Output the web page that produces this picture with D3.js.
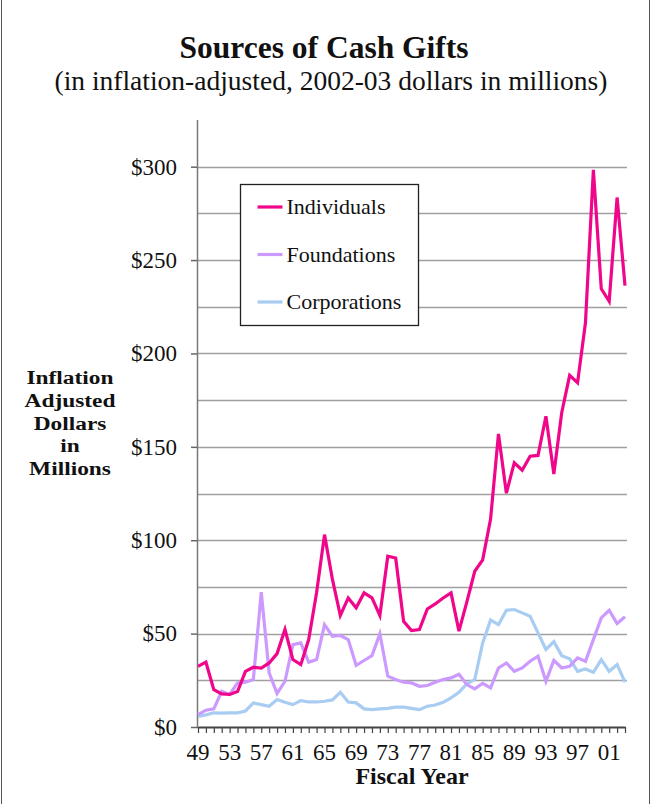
<!DOCTYPE html>
<html>
<head>
<meta charset="utf-8">
<script src="https://cdn.jsdelivr.net/npm/d3@7"></script>
<style>
  body { margin: 0; background: #fff; }
  svg text { font-family: "Liberation Serif", "DejaVu Serif", serif; fill: #111; }
</style>
</head>
<body>
<div id="chart"></div>
<script>
var years = d3.range(1949, 2004);

var individuals = [32.5, 34.7, 20, 17.7, 17.4, 19, 29.8, 32, 31.6, 34.3,
  39.3, 52.2, 36.1, 33.4, 46.8, 72, 103, 79, 59.7, 69.1,
  63.8, 71.8, 69.1, 59.7, 91.4, 90.5, 56.6, 51.6, 52.2, 63.2,
  65.9, 69.1, 71.8, 51.3, 67, 83.4, 89.5, 111.3, 156.9, 125.2,
  141.5, 137.5, 145, 145.4, 166.4, 135.5, 168.4, 188.3, 184.3, 216.4,
  298.3, 234.6, 227.9, 283.5, 236.3];

var foundations = [6.6, 9, 9.7, 19.1, 17.4, 23.6, 24, 25.4, 72.2, 29,
  17.9, 24.5, 44.1, 45, 34.7, 36.1, 54.8, 48.6, 49, 46.8,
  33, 35.6, 38.2, 49.9, 27.2, 25.4, 24, 23.6, 21.8, 22.2,
  24, 25.4, 26.3, 28.2, 22.7, 20.4, 23.4, 20.9, 31.6, 34.3,
  29.8, 31.6, 35.2, 37.9, 24.5, 35.7, 31.6, 32.5, 37, 35.2,
  46.8, 58.4, 62.5, 55.4, 59];

var corporations = [5.7, 6.5, 7.6, 7.4, 7.6, 7.6, 8.6, 12.9, 12, 11.1,
  14.7, 13.2, 12, 14.1, 13.4, 13.4, 13.8, 14.5, 18.6, 13.4,
  12.9, 9.7, 9.3, 9.7, 10, 10.6, 10.6, 10, 9.3, 11.1,
  11.8, 13.2, 15.6, 18.6, 23.1, 25.4, 45, 57.2, 54.8, 62.5,
  62.9, 61.1, 59.3, 50.4, 41.5, 45.7, 38.2, 36.5, 29.8, 31.1,
  29.3, 36.1, 29.8, 33.4, 24];

var seriesNames = ['Individuals', 'Foundations', 'Corporations'];
var seriesColors = ['#f0068a', '#cc99ff', '#a8ccf2'];
var yTicks = [0, 50, 100, 150, 200, 250, 300];
var yGrid = d3.range(25, 325, 25);
var xLabels = d3.range(1949, 2004, 4);

var width = 651, height = 804;
var margin = { top: 120, right: 24, bottom: 77, left: 198 };

var svg = d3.select('#chart').append('svg')
  .attr('width', width)
  .attr('height', height);

svg.append('rect')
  .attr('x', 1.5).attr('y', -2)
  .attr('width', width - 3).attr('height', height + 4)
  .attr('fill', 'none')
  .attr('stroke', '#555')
  .attr('stroke-width', 1);

var x = d3.scaleLinear()
  .domain([1949, 2003])
  .range([margin.left, width - margin.right - 2]);

var y = d3.scaleLinear()
  .domain([0, 325])
  .range([height - margin.bottom, margin.top]);

// titles
svg.append('text')
  .attr('x', 324).attr('y', 58)
  .attr('text-anchor', 'middle')
  .attr('font-size', 31.5)
  .attr('font-weight', 'bold')
  .text('Sources of Cash Gifts');

svg.append('text')
  .attr('x', 331).attr('y', 90)
  .attr('text-anchor', 'middle')
  .attr('font-size', 27.5)
  .text('(in inflation-adjusted, 2002-03 dollars in millions)');

// gridlines
svg.append('g')
  .selectAll('line')
  .data(yGrid)
  .enter()
  .append('line')
  .attr('x1', margin.left)
  .attr('x2', width - margin.right)
  .attr('y1', function (d) { return Math.round(y(d)) + 0.5; })
  .attr('y2', function (d) { return Math.round(y(d)) + 0.5; })
  .attr('stroke', '#a0a0a0')
  .attr('stroke-width', 1.5);

// y axis
var yAxis = svg.append('g')
  .attr('transform', 'translate(' + margin.left + ',0)')
  .call(d3.axisLeft(y)
    .tickValues(yTicks)
    .tickSize(7)
    .tickPadding(14)
    .tickFormat(function (d) { return '$' + d; }));
yAxis.select('.domain').remove();
yAxis.selectAll('line').attr('stroke', '#666').attr('stroke-width', 1.5);
yAxis.selectAll('text')
  .attr('font-size', 23)
  .attr('font-family', '"Liberation Serif", serif')
  .attr('fill', '#111');

svg.append('line')
  .attr('x1', margin.left - 0.5).attr('x2', margin.left - 0.5)
  .attr('y1', margin.top).attr('y2', y(0))
  .attr('stroke', '#777').attr('stroke-width', 1.5);

// x axis
var xAxis = svg.append('g')
  .attr('transform', 'translate(0,' + y(0) + ')')
  .call(d3.axisBottom(x)
    .tickValues(years)
    .tickSize(6)
    .tickSizeOuter(0)
    .tickFormat(''));
xAxis.select('.domain').attr('stroke', '#444').attr('stroke-width', 2);
xAxis.selectAll('line').attr('stroke', '#444').attr('stroke-width', 1.2);

svg.append('g')
  .selectAll('text')
  .data(xLabels)
  .enter()
  .append('text')
  .attr('x', function (d) { return x(d); })
  .attr('y', y(0) + 33)
  .attr('text-anchor', 'middle')
  .attr('font-size', 23)
  .text(function (d) { return d3.format('02')(d % 100); });

svg.append('text')
  .attr('x', 412).attr('y', 784)
  .attr('text-anchor', 'middle')
  .attr('font-size', 24)
  .attr('font-weight', 'bold')
  .text('Fiscal Year');

// y axis title (stretched a little sideways so the line boxes don't collide)
var yTitle = ['Inflation', 'Adjusted', 'Dollars', 'in', 'Millions'];
svg.append('g')
  .attr('transform', 'translate(70,0) scale(1.2,1)')
  .selectAll('text')
  .data(yTitle)
  .enter()
  .append('text')
  .attr('x', 0)
  .attr('y', function (d, i) { return 384 + i * 22.8; })
  .attr('text-anchor', 'middle')
  .attr('font-size', 19.5)
  .attr('font-weight', 'bold')
  .text(function (d) { return d; });

// lines
var line = d3.line()
  .x(function (d, i) { return x(years[i]); })
  .y(function (d) { return y(d); });

var allSeries = [individuals, foundations, corporations];

svg.append('g')
  .selectAll('path')
  .data([2, 1, 0])
  .enter()
  .append('path')
  .attr('d', function (k) { return line(allSeries[k]); })
  .attr('fill', 'none')
  .attr('stroke', function (k) { return seriesColors[k]; })
  .attr('stroke-width', 3.2)
  .attr('stroke-linejoin', 'miter');

// legend
var legend = svg.append('g')
  .attr('transform', 'translate(240.5,184.5)');

legend.append('rect')
  .attr('width', 178)
  .attr('height', 141)
  .attr('fill', '#fff')
  .attr('stroke', '#222')
  .attr('stroke-width', 1.3);

var item = legend.selectAll('.item')
  .data(seriesNames)
  .enter()
  .append('g')
  .attr('class', 'item')
  .attr('transform', function (d, i) { return 'translate(0,' + (22.5 + i * 47.5) + ')'; });

item.append('line')
  .attr('x1', 17).attr('x2', 42)
  .attr('stroke', function (d, i) { return seriesColors[i]; })
  .attr('stroke-width', 3.2);

item.append('text')
  .attr('x', 46)
  .attr('y', 7)
  .attr('font-size', 22)
  .text(function (d) { return d; });
</script>
</body>
</html>
